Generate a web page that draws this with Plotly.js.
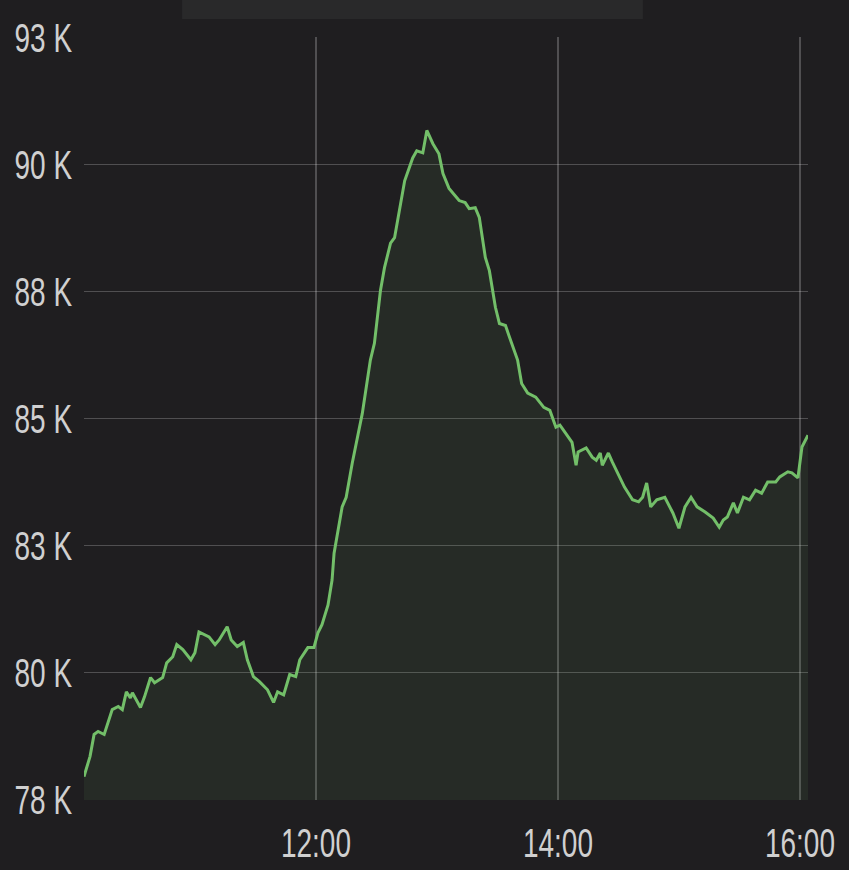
<!DOCTYPE html>
<html>
<head>
<meta charset="utf-8">
<script src="https://cdn.plot.ly/plotly-3.0.1.min.js"></script>
<style>
  html, body { margin: 0; padding: 0; background: #1f1e20; }
  #chart { width: 849px; height: 870px; }
</style>
</head>
<body>
<div id="chart"></div>
<script>
// Time stamps (same day) and series values
const times = [
  "10:05","10:08","10:10","10:12","10:15","10:19","10:22","10:24","10:26","10:28",
  "10:29","10:33","10:35","10:38","10:40","10:44","10:46","10:49","10:51","10:54",
  "10:58","11:00","11:02","11:05","11:07","11:10","11:12","11:16","11:18","11:21",
  "11:24","11:26","11:29","11:32","11:36","11:39","11:41","11:44","11:47","11:50",
  "11:52","11:56","11:59","12:01","12:03","12:06","12:08","12:09","12:13","12:15",
  "12:18","12:23","12:27","12:29","12:32","12:34","12:37","12:39","12:41","12:44",
  "12:48","12:50","12:53","12:55","12:58","13:01","13:03","13:06","13:11","13:14",
  "13:16","13:19","13:21","13:24","13:26","13:29","13:31","13:34","13:36","13:40",
  "13:42","13:45","13:49","13:53","13:56","13:59","14:01","14:04","14:07","14:09",
  "14:10","14:14","14:17","14:19","14:21","14:22","14:25","14:27","14:31","14:33",
  "14:37","14:40","14:42","14:44","14:46","14:49","14:53","14:57","15:00","15:03",
  "15:06","15:09","15:13","15:17","15:20","15:22","15:24","15:27","15:29","15:32",
  "15:35","15:38","15:41","15:44","15:48","15:50","15:54","15:56","15:59","16:00",
  "16:01","16:04"
];
const values = [
  77950,78350,78780,78840,78780,79270,79330,79270,79620,79500,
  79600,79310,79520,79900,79800,79900,80190,80310,80550,80450,
  80250,80390,80800,80740,80700,80550,80640,80900,80640,80510,
  80590,80250,79920,79820,79660,79410,79620,79560,79960,79920,
  80250,80490,80490,80780,80940,81330,81820,82350,83260,83450,
  84120,85100,86150,86480,87520,87970,88450,88560,89030,89680,
  90130,90270,90230,90670,90410,90210,89820,89530,89290,89250,
  89130,89150,88960,88170,87910,87190,86870,86830,86600,86150,
  85690,85500,85420,85220,85160,84830,84870,84710,84530,84080,
  84340,84420,84240,84180,84320,84080,84320,84140,83790,83650,
  83400,83360,83450,83730,83260,83400,83450,83140,82840,83260,
  83450,83260,83160,83040,82860,83000,83060,83340,83140,83450,
  83400,83590,83530,83750,83750,83850,83950,83930,83830,84120,
  84440,84670
];
const yTickVals = [77500, 80000, 82500, 85000, 87500, 90000, 92500];
const yTickText = ["78 K", "80 K", "83 K", "85 K", "88 K", "90 K", "93 K"];
const xTickVals = ["12:00", "14:00", "16:00"];
const xTickText = ["12:00", "14:00", "16:00"];
const xRange = ["10:05", "16:04"];

const day = "2024-01-01 ";
const xs = times.map(t => day + t);

const fontFam = "'Liberation Sans', Arial, sans-serif";
const labelSize = 40;
const squeeze = 0.7;

const trace = {
  x: xs,
  y: values,
  type: "scatter",
  mode: "lines",
  line: { color: "#73bf69", width: 3 },
  fill: "tozeroy",
  fillcolor: "rgba(115,191,105,0.085)",
  hoverinfo: "skip"
};

const layout = {
  width: 849,
  height: 870,
  paper_bgcolor: "#1f1e20",
  plot_bgcolor: "#1f1e20",
  margin: { l: 84, r: 41, t: 37, b: 70 },
  showlegend: false,
  font: { family: fontFam, size: labelSize, color: "#d0d0d0" },
  xaxis: {
    type: "date",
    range: xRange.map(t => day + t),
    tickvals: xTickVals.map(t => day + t),
    ticktext: xTickText,
    showgrid: true,
    gridcolor: "rgba(255,255,255,0.22)",
    gridwidth: 1.5,
    zeroline: false,
    showline: false,
    ticks: "",
    ticklabelstandoff: 16,
    ticklabeloverflow: "allow",
    tickfont: { family: fontFam, size: labelSize, color: "#d0d0d0" },
    fixedrange: true
  },
  yaxis: {
    range: [77490, 92510],
    tickvals: yTickVals,
    ticktext: yTickText,
    showgrid: true,
    gridcolor: "rgba(255,255,255,0.22)",
    gridwidth: 1.5,
    zeroline: false,
    showline: false,
    ticks: "",
    ticklabelstandoff: 11,
    ticklabeloverflow: "allow",
    tickfont: { family: fontFam, size: labelSize, color: "#d0d0d0" },
    fixedrange: true
  },
  shapes: [
    {
      type: "rect", xref: "paper", yref: "paper",
      x0: 0.1354, x1: 0.772, y0: 1.0236, y1: 1.06,
      fillcolor: "#29292a", line: { width: 0 }, layer: "below"
    }
  ]
};

function condense(sel, mode) {
  document.querySelectorAll(sel).forEach(el => {
    const bb = el.getBBox();
    const ax = mode === "y" ? bb.x + bb.width : bb.x + bb.width / 2;
    const ay = bb.y + bb.height / 2;
    const prev = el.getAttribute("transform") || "";
    el.setAttribute("transform",
      prev + " translate(" + ax + "," + ay + ") scale(" + squeeze + ",1) translate(" + (-ax) + "," + (-ay) + ")");
  });
}

Plotly.newPlot("chart", [trace], layout, { displayModeBar: false, staticPlot: true }).then(() => {
  condense(".ytick text", "y");
  condense(".xtick text", "x");
});
</script>
</body>
</html>
